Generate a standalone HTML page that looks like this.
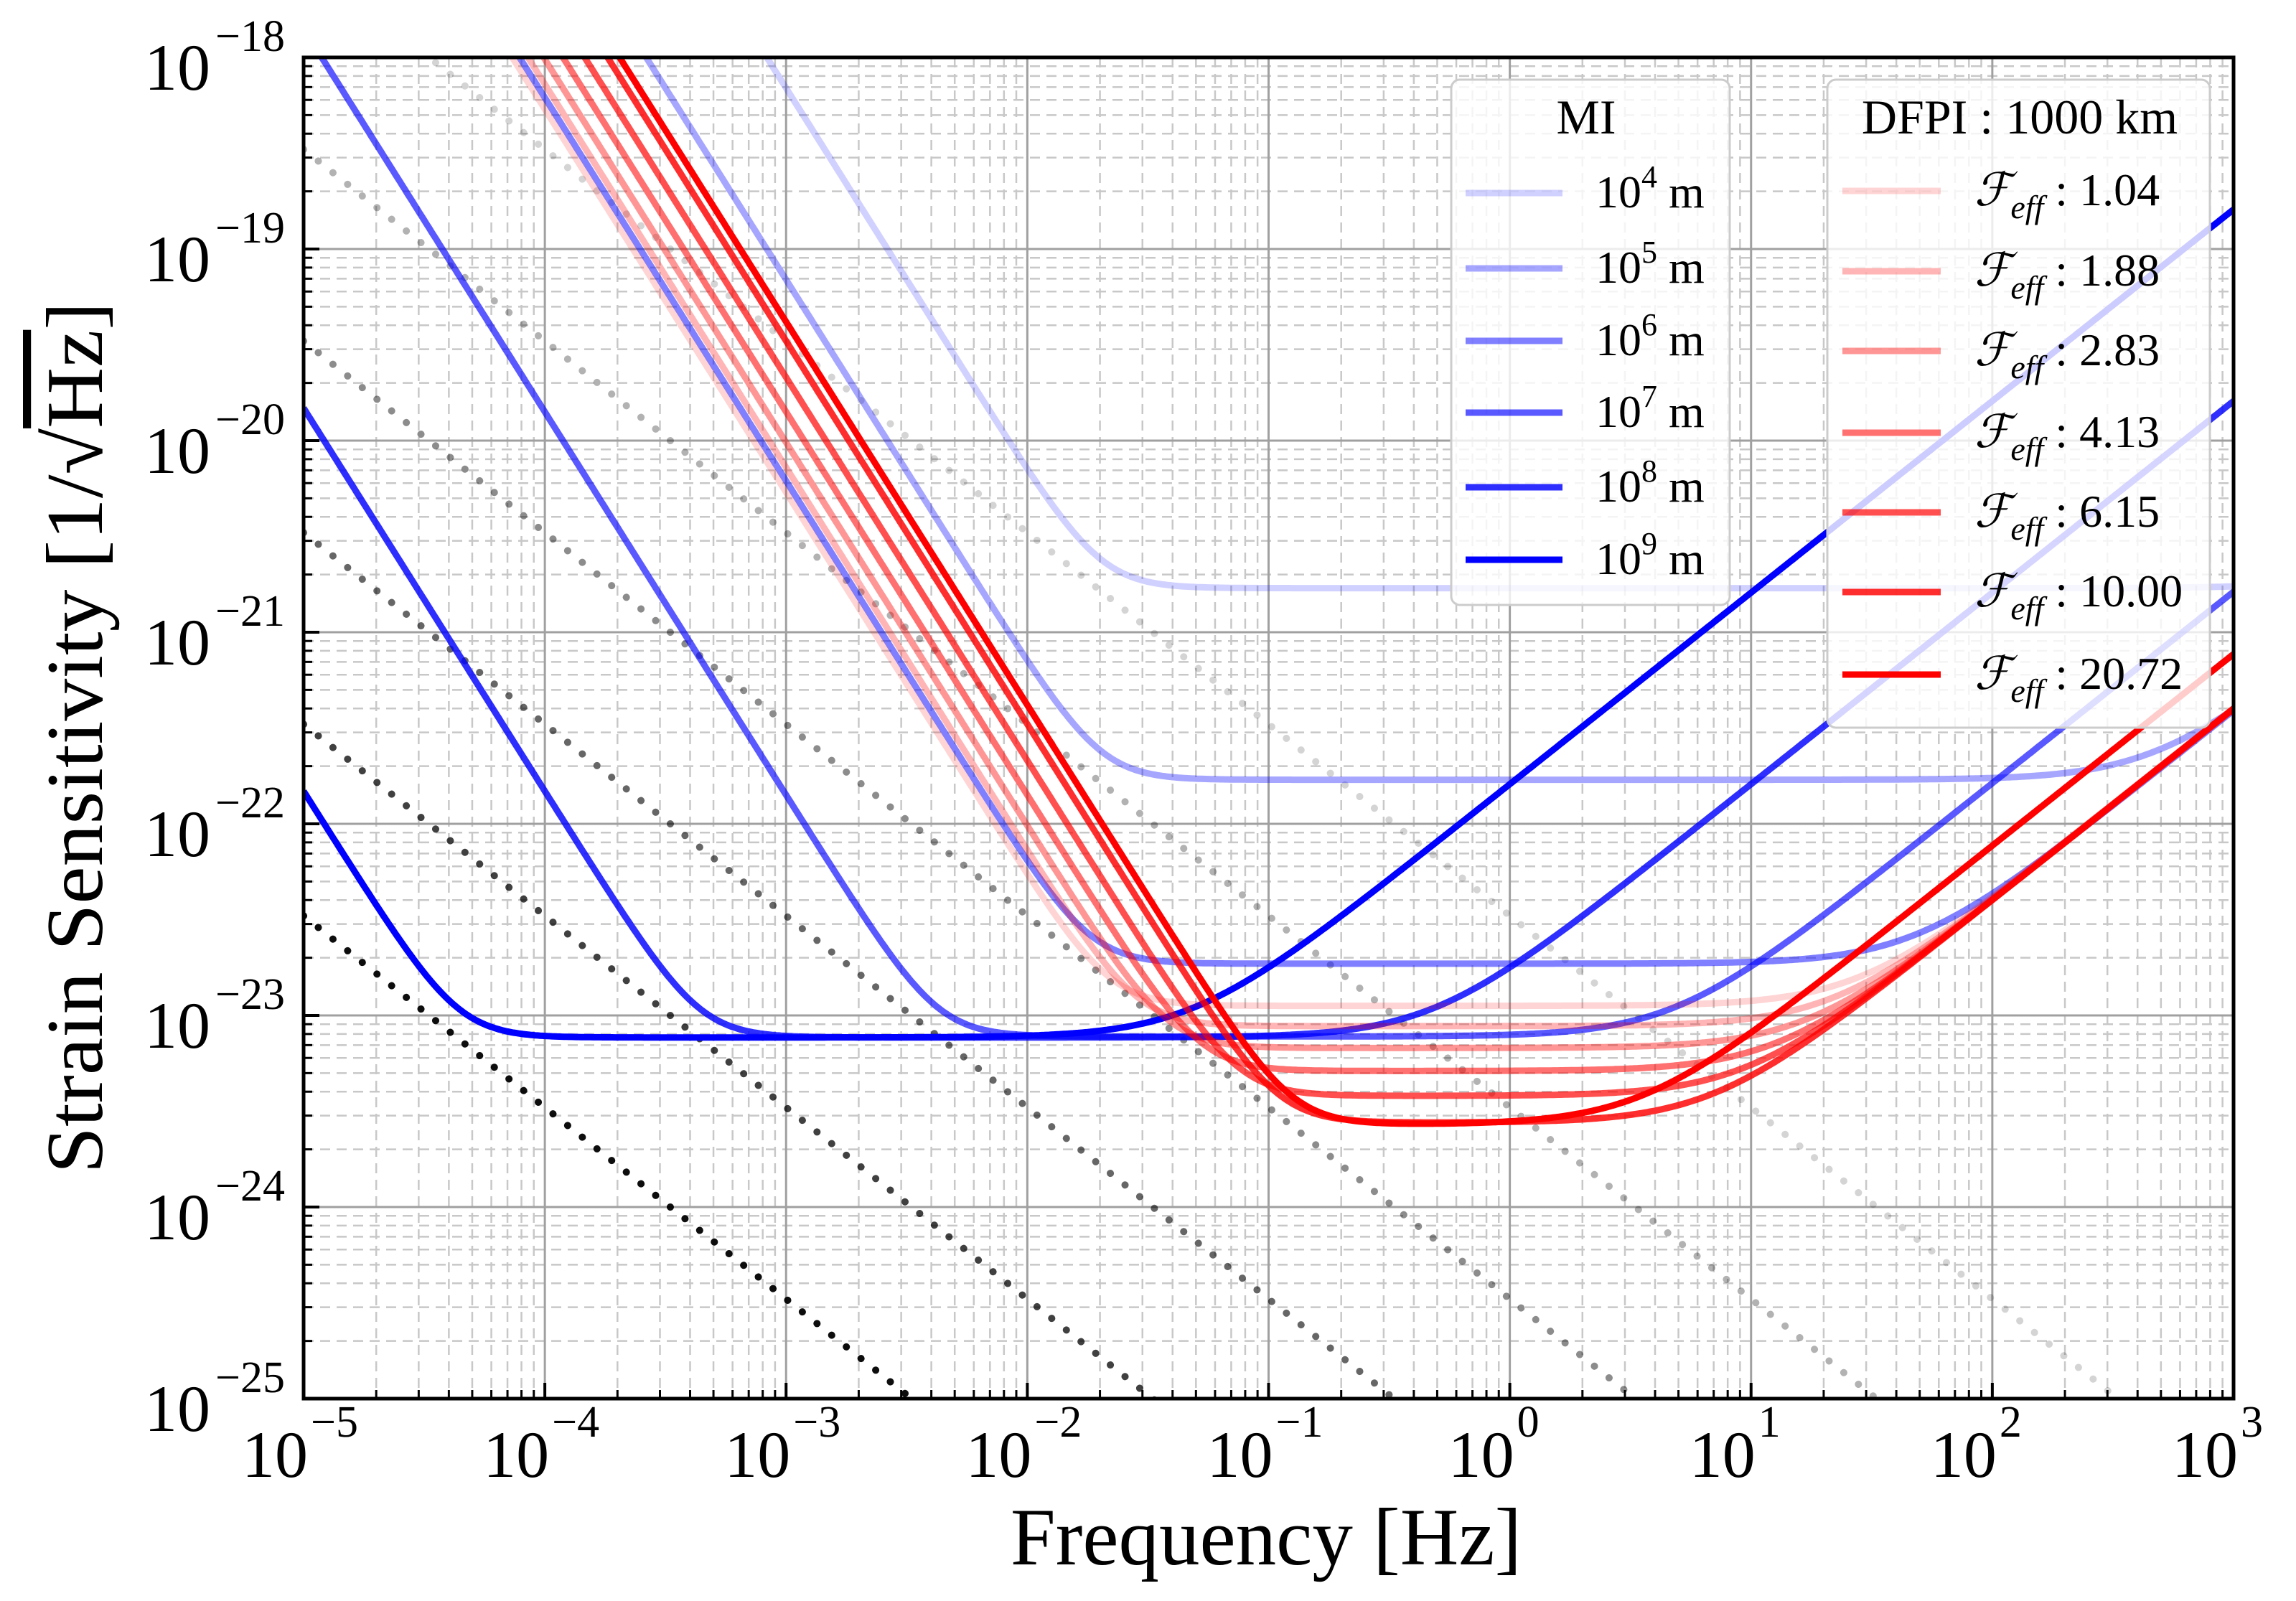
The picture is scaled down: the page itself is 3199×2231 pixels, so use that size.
<!DOCTYPE html>
<html><head><meta charset="utf-8"><style>
html,body{margin:0;padding:0;background:#fff;width:3199px;height:2231px;overflow:hidden;}
svg{display:block;font-family:"Liberation Serif","DejaVu Serif",serif;}
</style></head><body>
<svg id="chart" width="3199" height="2231" viewBox="0 0 3199 2231" xmlns="http://www.w3.org/2000/svg">
<defs><clipPath id="plotclip"><rect x="423" y="80" width="2689" height="1869"/></clipPath></defs>
<rect width="3199" height="2231" fill="#fff"/>
<g id="grid"></g>
<g id="series" clip-path="url(#plotclip)"></g>
<g id="ticks"></g>
<rect x="423" y="80" width="2689" height="1869" fill="none" stroke="#000" stroke-width="5"/>
<g id="labels"></g>
<text x="1764" y="2180" font-size="113" text-anchor="middle">Frequency [Hz]</text>
<text transform="translate(142,1028) rotate(-90)" font-size="112" text-anchor="middle" textLength="1215" lengthAdjust="spacingAndGlyphs">Strain Sensitivity [1/√<tspan text-decoration="overline">Hz</tspan>]</text>
<g id="legend-mi">
<rect x="2022" y="111" width="388" height="732" rx="12" fill="rgba(255,255,255,0.8)" stroke="#cccccc" stroke-width="3"/>
<text x="2210" y="186" font-size="68" text-anchor="middle">MI</text>
</g>
<g id="legend-dfpi">
<rect x="2546" y="111" width="533" height="903" rx="12" fill="rgba(255,255,255,0.8)" stroke="#cccccc" stroke-width="3"/>
<text x="2814" y="186" font-size="68" text-anchor="middle">DFPI : 1000 km</text>
</g>
</svg>
<script>
// ---- data ----
const miExponents=['4','5','6','7','8','9'];
const miLowLog=[-24.16,-25.16,-26.21,-27.85,-29.83,-31.83];
const miFloorLog=[-20.77,-21.77,-22.73,-23.11,-23.115,-23.115];
const miKneeHz=[4770,477,47.7,4.77,0.477,0.0477];
const miAlpha=[0.18,0.35,0.5,0.65,0.82,1];
const dfpiLabels=['1.04','1.88','2.83','4.13','6.15','10.00','20.72'];
const dfpiLowLog=[-26.27,-26.14,-26.01,-25.85,-25.67,-25.48,-25.38];
const dfpiFloorLog=[-22.95,-23.056,-23.17,-23.29,-23.42,-23.56,-23.57];
const dfpiKneeHz=[28,22,17,12.9,9.5,6.9,3.5];
const dfpiAlpha=[0.17,0.29,0.41,0.56,0.69,0.82,1];
const dotLevelAt1e5=[-22.48,-21.48,-20.48,-19.48,-18.48,-17.48];
const dotAlpha=[0.95,0.75,0.6,0.45,0.3,0.17];
const xTickExps=[-5,-4,-3,-2,-1,0,1,2,3];
const yTickExps=[-18,-19,-20,-21,-22,-23,-24,-25];

const NS='http://www.w3.org/2000/svg';
const L=423,R=3112,T=80,B=1949;
const X=lf=>L+(lf+5)*(R-L)/8;
const Y=lh=>T+(-18-lh)*(B-T)/7;
function mk(tag,attrs,parent){const e=document.createElementNS(NS,tag);for(const k in attrs)e.setAttribute(k,attrs[k]);parent.appendChild(e);return e;}
const grid=document.getElementById('grid'),series=document.getElementById('series'),ticks=document.getElementById('ticks'),labels=document.getElementById('labels');

for(let d=-5;d<3;d++){for(let m=2;m<=9;m++){const x=X(d+Math.log10(m));
  const g=mk('line',{x1:x,x2:x,y1:T,y2:B,stroke:'#c8c8c8','stroke-width':2.5,'stroke-dasharray':'14 9'},grid);
  
  
  const t=mk('line',{x1:x,x2:x,y1:B,y2:B-12,stroke:'#000','stroke-width':3},ticks);
  
  }}
for(let d=-25;d<-18;d++){for(let m=2;m<=9;m++){const y=Y(d+Math.log10(m));
  const g=mk('line',{x1:L,x2:R,y1:y,y2:y,stroke:'#c8c8c8','stroke-width':2.5,'stroke-dasharray':'14 9'},grid);
  
  
  const t=mk('line',{x1:L,x2:L+12,y1:y,y2:y,stroke:'#000','stroke-width':3},ticks);
  
  }}
xTickExps.forEach(e=>{const x=X(e);
  const g=mk('line',{x1:x,x2:x,y1:T,y2:B,stroke:'#a0a0a0','stroke-width':3},grid);
  
  
  const t=mk('line',{x1:x,x2:x,y1:B,y2:B-22,stroke:'#000','stroke-width':4},ticks);
  
  
  const tx=mk('text',{x:x+6,y:2058,'font-size':92,'text-anchor':'end'},labels);
  tx.textContent='10';
  
  
  const sp=mk('text',{x:x+10,y:2002,'font-size':62},labels);
  sp.textContent=(e<0?'\u2212':'')+Math.abs(e);
  
  });
yTickExps.forEach(e=>{const y=Y(e);
  const g=mk('line',{x1:L,x2:R,y1:y,y2:y,stroke:'#a0a0a0','stroke-width':3},grid);
  
  
  const t=mk('line',{x1:L,x2:L+22,y1:y,y2:y,stroke:'#000','stroke-width':4},ticks);
  
  
  const tx=mk('text',{x:293,y:y+45,'font-size':92,'text-anchor':'end'},labels);
  tx.textContent='10';
  
  
  const sp=mk('text',{x:300,y:y-9,'font-size':62},labels);
  sp.textContent='\u2212'+Math.abs(e);
  
  });

dotLevelAt1e5.forEach((v,i)=>{
  const p=mk('line',{x1:X(-5),y1:Y(v),x2:X(3),y2:Y(v-8),stroke:'rgba(0,0,0,'+dotAlpha[i]+')','stroke-width':10,'stroke-linecap':'round','stroke-dasharray':'0.1 26'},series);
  
  });

function curve(low,floor,knee){const pts=[];for(let k=0;k<=800;k++){const lf=-5+8*k/800,f=Math.pow(10,lf);
  const a=Math.pow(10,low)/(f*f),b=Math.pow(10,floor)*Math.sqrt(1+Math.pow(f/knee,2));
  const lh=Math.log10(Math.sqrt(a*a+b*b));pts.push(X(lf).toFixed(1)+','+Y(Math.min(lh,-17.5)).toFixed(1));}return pts.join(' ');}

miExponents.forEach((e,i)=>{
  const p=mk('polyline',{points:curve(miLowLog[i],miFloorLog[i],miKneeHz[i]),fill:'none',stroke:'rgba(0,0,255,'+miAlpha[i]+')','stroke-width':9},series);
  
  });
dfpiLabels.forEach((e,i)=>{
  const p=mk('polyline',{points:curve(dfpiLowLog[i],dfpiFloorLog[i],dfpiKneeHz[i]),fill:'none',stroke:'rgba(255,0,0,'+dfpiAlpha[i]+')','stroke-width':9},series);
  
  });

const lmi=document.getElementById('legend-mi'),ldf=document.getElementById('legend-dfpi');
const miY=[269,374,475,575,679,780];
miExponents.forEach((e,i)=>{
  const ln=mk('line',{x1:2042,x2:2177,y1:miY[i],y2:miY[i],stroke:'rgba(0,0,255,'+miAlpha[i]+')','stroke-width':9},lmi);
  
  
  const t=mk('text',{x:2223,y:miY[i]+20,'font-size':64},lmi);
  
  
  const a=mk('tspan',{},t);a.textContent='10';
  const b=mk('tspan',{dy:-28,'font-size':44},t);b.textContent=e;
  const c=mk('tspan',{dy:28},t);c.textContent=' m';});
const dfY=[266,378,489,603,714,825,940];
dfpiLabels.forEach((e,i)=>{
  const ln=mk('line',{x1:2567,x2:2704,y1:dfY[i],y2:dfY[i],stroke:'rgba(255,0,0,'+dfpiAlpha[i]+')','stroke-width':9},ldf);
  
  
  const t=mk('text',{x:2751,y:dfY[i]+20,'font-size':64},ldf);
  
  
  const a=mk('tspan',{'font-style':'italic'},t);a.textContent='\u2131';
  const b=mk('tspan',{dy:18,'font-size':46,'font-style':'italic'},t);b.textContent='eff';
  const c=mk('tspan',{dy:-18},t);c.textContent=' : '+e;});
</script>
</body></html>
